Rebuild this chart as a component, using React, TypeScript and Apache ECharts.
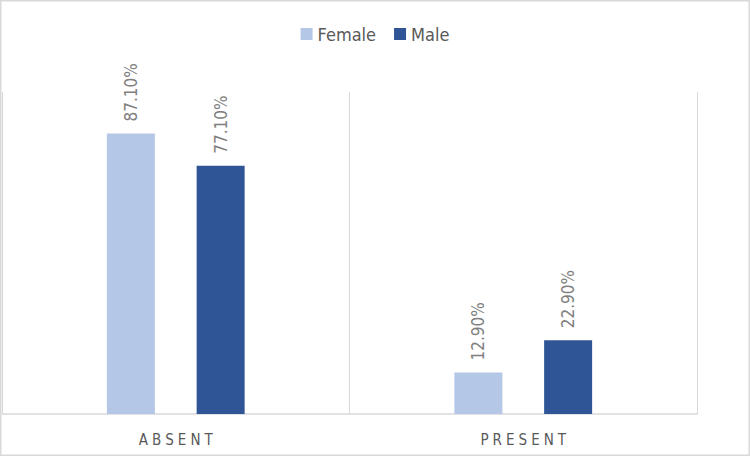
import React, { useEffect, useRef } from "react";
import * as echarts from "echarts";

const categories = ["ABSENT", "PRESENT"];
const femaleValues = [87.1, 12.9];
const maleValues = [77.1, 22.9];
const seriesNames = ["Female", "Male"];

const FONT = "'Liberation Sans Narrow', 'DejaVu Sans Condensed', 'Open Sans', sans-serif";

export default function App() {
  const ref = useRef<HTMLDivElement>(null);
  useEffect(() => {
    if (!ref.current) return;
    const chart = echarts.init(ref.current, undefined, { renderer: "svg" });
    const labelCfg = {
      show: true,
      position: "top",
      rotate: 90,
      align: "left",
      verticalAlign: "middle",
      distance: 12,
      color: "#7f7f7f",
      fontSize: 17,
      fontFamily: FONT,
      formatter: (p: any) => p.value.toFixed(2) + "%",
    };
    chart.setOption({
      animation: false,
      backgroundColor: "#ffffff",
      legend: {
        data: seriesNames,
        top: 20,
        left: "center",
        itemWidth: 12,
        itemHeight: 12,
        itemGap: 18,
        icon: "rect",
        textStyle: { color: "#595959", fontSize: 18, fontFamily: FONT },
      },
      grid: { left: 2, right: 53, top: 92, bottom: 42, containLabel: false },
      xAxis: {
        type: "category",
        data: categories,
        axisLine: { show: true, lineStyle: { color: "#d9d9d9", width: 1.5 } },
        axisTick: { show: false },
        splitLine: { show: true, lineStyle: { color: "#d9d9d9", width: 1 } },
        axisLabel: {
          color: "#595959",
          fontSize: 15,
          fontFamily: FONT,
          margin: 18,
          formatter: (v: string) => v.split("").join("\u200a\u2009"),
        },
      },
      yAxis: {
        type: "value",
        min: 0,
        max: 100,
        show: false,
      },
      series: [
        {
          name: seriesNames[0],
          type: "bar",
          data: femaleValues,
          barWidth: 48,
          barGap: "87%",
          itemStyle: { color: "#b4c7e7" },
          label: labelCfg,
        },
        {
          name: seriesNames[1],
          type: "bar",
          data: maleValues,
          barWidth: 48,
          barGap: "87%",
          itemStyle: { color: "#2f5597" },
          label: labelCfg,
        },
      ],
      graphic: [
        {
          type: "rect",
          shape: { x: 0.75, y: 0.75, width: 748.5, height: 454.5 },
          style: { fill: "none", stroke: "#d9d9d9", lineWidth: 1.5 },
          silent: true,
        },
      ],
    });
    return () => chart.dispose();
  }, []);
  return (
    <div
      ref={ref}
      style={{ position: "fixed", left: 0, top: 0, width: 750, height: 456 }}
    />
  );
}
